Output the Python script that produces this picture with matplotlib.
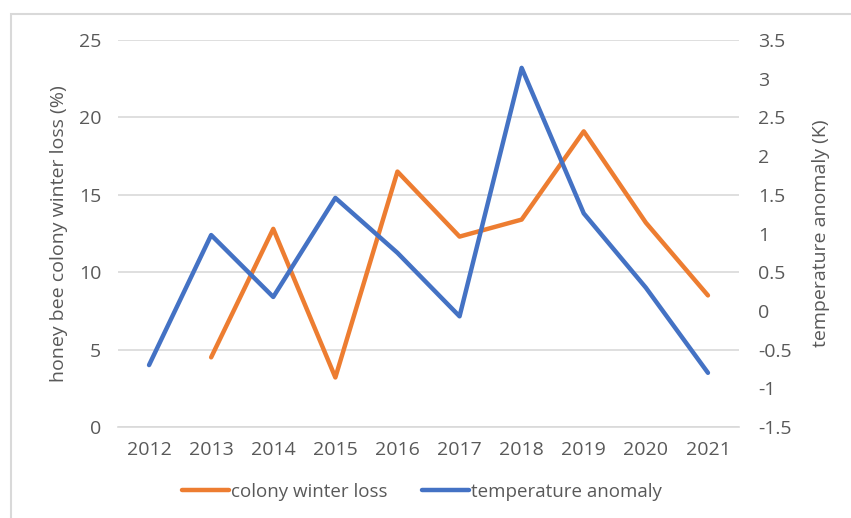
import matplotlib
matplotlib.use('Agg')
import matplotlib.pyplot as plt
from matplotlib.patches import Rectangle

# data
years = ['2012', '2013', '2014', '2015', '2016', '2017', '2018', '2019', '2020', '2021']
loss_years = years[1:]
colony_loss = [4.5, 12.8, 3.2, 16.5, 12.3, 13.4, 19.1, 13.2, 8.5]
temp_anomaly = [-0.70, 0.98, 0.18, 1.46, 0.75, -0.07, 3.14, 1.26, 0.30, -0.80]

left_ticks = [0, 5, 10, 15, 20, 25]
right_ticks = [-1.5, -1, -0.5, 0, 0.5, 1, 1.5, 2, 2.5, 3, 3.5]

orange = '#ED7D31'
blue = '#4472C4'
text_col = '#595959'
grid_col = '#D9D9D9'

plt.rcParams['font.family'] = ['Open Sans', 'DejaVu Sans']

fig = plt.figure(figsize=(8.51, 5.18), dpi=100)
fig.patches.append(Rectangle((11 / 851, -0.1), 1.2, 1 - 14 / 518 + 0.1,
                             transform=fig.transFigure, fill=False,
                             edgecolor='#D9D9D9', linewidth=1.5))

ax = fig.add_axes([118 / 851, 1 - 427 / 518, (739 - 118) / 851, (427 - 40) / 518])
ax2 = ax.twinx()

x_all = list(range(len(years)))
x_loss = [years.index(y) for y in loss_years]

l1, = ax.plot(x_loss, colony_loss, color=orange, linewidth=3.2, solid_capstyle='round',
              label='colony winter loss')
l2, = ax2.plot(x_all, temp_anomaly, color=blue, linewidth=3.2, solid_capstyle='round',
               label='temperature anomaly')

ax.set_xlim(-0.5, len(years) - 0.5)
ax.set_ylim(0, 25)
ax2.set_ylim(-1.5, 3.5)
ax.set_xticks(x_all)
ax.set_xticklabels(years)
ax.set_yticks(left_ticks)
ax2.set_yticks(right_ticks)
ax2.set_yticklabels([f'{t:g}' for t in right_ticks])

ax.yaxis.grid(True, color=grid_col, linewidth=1.2)
ax.set_axisbelow(True)
for a in (ax, ax2):
    for s in a.spines.values():
        s.set_visible(False)
    a.tick_params(length=0, labelsize=14, colors=text_col, pad=6)
ax.tick_params(axis='y', pad=12)
ax.tick_params(axis='x', pad=10)
ax2.tick_params(axis='y', pad=14)
ax.spines['bottom'].set_visible(True)
ax.spines['bottom'].set_color(grid_col)
ax.spines['bottom'].set_linewidth(1.2)

ax.set_ylabel('honey bee colony winter loss (%)', fontsize=14, color=text_col, labelpad=8)
ax2.set_ylabel('temperature anomaly (K)', fontsize=14, color=text_col, labelpad=14)

fig.legend(handles=[l1, l2], loc='center', bbox_to_anchor=(422 / 851, 1 - 492 / 518),
           ncol=2, frameon=False, fontsize=13.5, labelcolor=text_col,
           handlelength=2.5, handletextpad=0.15, columnspacing=1.8)

fig.savefig('out.png', dpi=100)
